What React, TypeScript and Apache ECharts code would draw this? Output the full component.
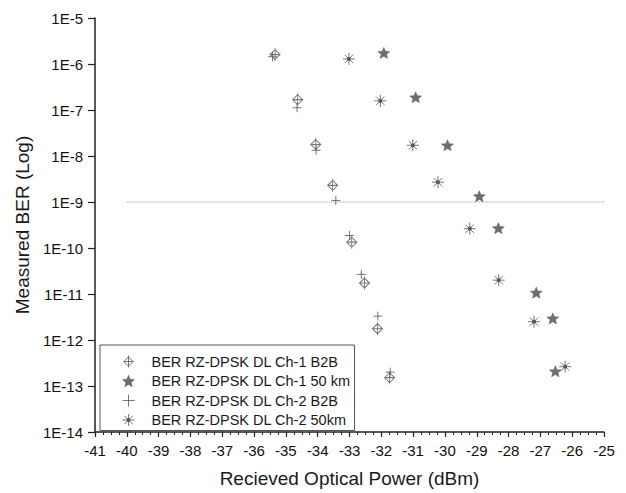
import React, { useEffect, useRef } from 'react';
import * as echarts from 'echarts';

const seriesNames = [
  'BER RZ-DPSK DL Ch-1 B2B',
  'BER RZ-DPSK DL Ch-1 50 km',
  'BER RZ-DPSK DL Ch-2 B2B',
  'BER RZ-DPSK DL Ch-2 50km',
];

const ch1B2BX = [-35.34, -34.63, -34.06, -33.53, -32.93, -32.53, -32.12, -31.74];
const ch1B2BY = [1.6e-6, 1.68e-7, 1.77e-8, 2.3e-9, 1.34e-10, 1.73e-11, 1.76e-12, 1.52e-13];
const ch1KmX = [-31.92, -30.92, -29.92, -28.92, -28.32, -27.13, -26.61, -26.53];
const ch1KmY = [1.74e-6, 1.89e-7, 1.71e-8, 1.34e-9, 2.7e-10, 1.07e-11, 2.95e-12, 2.09e-13];
const ch2B2BX = [-35.42, -34.65, -34.05, -33.43, -33.0, -32.63, -32.11, -31.72];
const ch2B2BY = [1.44e-6, 1.12e-7, 1.33e-8, 1.08e-9, 1.87e-10, 2.67e-11, 3.3e-12, 2.0e-13];
const ch2KmX = [-33.02, -32.03, -31.01, -30.22, -29.22, -28.31, -27.2, -26.22];
const ch2KmY = [1.29e-6, 1.58e-7, 1.71e-8, 2.69e-9, 2.63e-10, 2.0e-11, 2.5e-12, 2.63e-13];

const thresholdX = [-40, -24.75];
const thresholdBER = 1e-9;

const xMin = -41;
const xMax = -25;
const yMin = 1e-14;
const yMax = 1e-5;

const FONT = '"Liberation Sans", Arial, sans-serif';

const diamondCross = 'path://M0,-10L10,0L0,10L-10,0Z M0,-13L0,13 M-10,0L10,0';
const star5 =
  'path://M0,-10L2.65,-3.64L9.51,-3.09L4.28,1.39L5.88,8.09L0,4.5L-5.88,8.09L-4.28,1.39L-9.51,-3.09L-2.65,-3.64Z';
const plusSym = 'path://M-10,0L10,0M0,-10L0,10';
const asterisk =
  'path://M-10,0L10,0M0,-10L0,10M-7,-7L7,7M-7,7L7,-7M-2.2,-2.2L2.2,-2.2L2.2,2.2L-2.2,2.2Z';

const zip = (xs: number[], ys: number[]) => xs.map((x, i) => [x, ys[i]]);

export default function App() {
  const ref = useRef<HTMLDivElement>(null);

  useEffect(() => {
    document.body.style.margin = '0';
    if (!ref.current) return;
    const chart = echarts.init(ref.current, undefined, { renderer: 'svg' });

    const styles = [
      { symbol: diamondCross, size: [10, 13], itemStyle: { color: 'rgba(0,0,0,0)', borderColor: '#555', borderWidth: 1 } },
      { symbol: star5, size: [12, 11], itemStyle: { color: '#4a4a4a', borderColor: '#4a4a4a', borderWidth: 0.5 } },
      { symbol: plusSym, size: [9, 9], itemStyle: { color: 'rgba(0,0,0,0)', borderColor: '#555', borderWidth: 1 } },
      { symbol: asterisk, size: [12, 12], itemStyle: { color: '#222', borderColor: '#555', borderWidth: 1 } },
    ];
    const datas = [zip(ch1B2BX, ch1B2BY), zip(ch1KmX, ch1KmY), zip(ch2B2BX, ch2B2BY), zip(ch2KmX, ch2KmY)];

    const option: any = {
      animation: false,
      textStyle: { fontFamily: FONT },
      grid: { left: 95, right: 22, top: 18, bottom: 60 },
      legend: {
        orient: 'vertical',
        left: 100,
        top: 345,
        padding: [9, 4, 3, 22],
        itemGap: 4.5,
        itemWidth: 12,
        itemHeight: 12,
        borderColor: '#555',
        borderWidth: 1,
        textStyle: { fontSize: 14.5, lineHeight: 14, color: '#1a1a1a', fontFamily: FONT, padding: [0, 0, 0, 12] },
        data: seriesNames.map((n, i) => ({ name: n, icon: styles[i].symbol, itemStyle: styles[i].itemStyle })),
      },
      xAxis: {
        type: 'value',
        min: xMin,
        max: xMax,
        interval: 1,
        name: 'Recieved Optical Power (dBm)',
        nameLocation: 'middle',
        nameGap: 37,
        nameTextStyle: { fontSize: 19, color: '#1a1a1a', fontFamily: FONT },
        axisLine: { show: true, onZero: false, lineStyle: { color: '#222', width: 1.5 } },
        axisTick: { show: true, inside: false, length: 5, lineStyle: { color: '#222', width: 1.2 } },
        minorTick: { show: true, splitNumber: 4, length: 3, lineStyle: { color: '#222', width: 1 } },
        axisLabel: { fontSize: 15, color: '#111', margin: 11, fontFamily: FONT },
        splitLine: { show: false },
      },
      yAxis: {
        type: 'log',
        logBase: 10,
        min: yMin,
        max: yMax,
        splitNumber: 9,
        name: 'Measured BER (Log)',
        nameLocation: 'middle',
        nameGap: 62,
        nameTextStyle: { fontSize: 19, color: '#1a1a1a', fontFamily: FONT },
        axisLine: { show: true, onZero: false, lineStyle: { color: '#222', width: 1.5 } },
        axisTick: { show: true, inside: false, length: 7, lineStyle: { color: '#222', width: 1.2 } },
        axisLabel: {
          fontSize: 15,
          color: '#111',
          margin: 12,
          fontFamily: FONT,
          formatter: (v: number) => '1E' + Math.round(Math.log10(v)),
        },
        splitLine: { show: false },
      },
      series: [
        ...seriesNames.map((n, i) => ({
          name: n,
          type: 'scatter',
          symbol: styles[i].symbol,
          symbolSize: styles[i].size,
          itemStyle: styles[i].itemStyle,
          data: datas[i],
          z: 3,
        })),
        {
          name: 'threshold',
          type: 'line',
          data: thresholdX.map((x) => [x, thresholdBER]),
          showSymbol: false,
          symbol: 'none',
          clip: false,
          silent: true,
          lineStyle: { type: 'dotted', color: '#999', width: 1 },
          z: 1,
        },
      ],
    };
    chart.setOption(option);
    return () => chart.dispose();
  }, []);

  return <div ref={ref} style={{ width: 626, height: 493 }} />;
}
